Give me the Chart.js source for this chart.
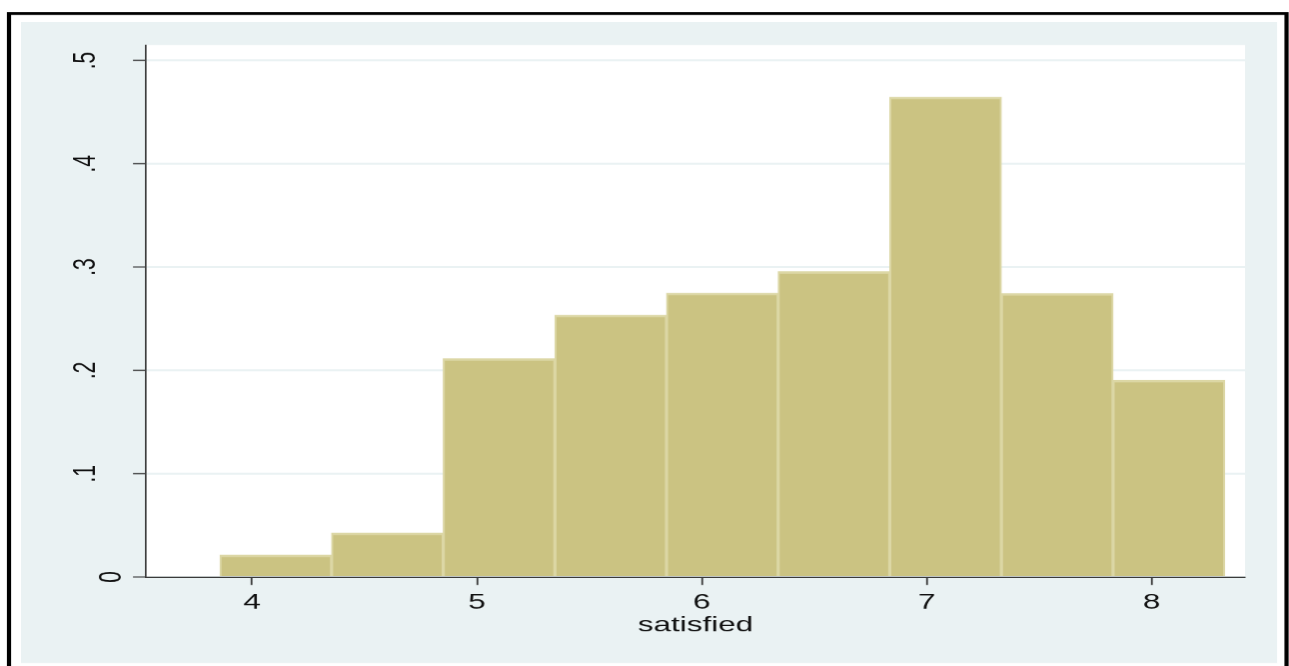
<!DOCTYPE html>
<html>
<head>
<meta charset="utf-8">
<script src="https://cdn.jsdelivr.net/npm/chart.js@4.4.1/dist/chart.umd.min.js"></script>
<style>
  html, body { margin: 0; padding: 0; background: #ffffff; }
  canvas { display: block; }
</style>
</head>
<body>
<canvas id="c" width="860" height="666" style="width:1289px;height:666px;"></canvas>
<script>
// ---- data ----
const binCenters = [4.1056, 4.6019, 5.0983, 5.5947, 6.0910, 6.5874, 7.0837, 7.5801, 8.0765];
const densities  = [0.0213, 0.0426, 0.2115, 0.2534, 0.2747, 0.2955, 0.4645, 0.2745, 0.1905];
const xTickValues = [4, 5, 6, 7, 8];
const xTickLabels = ['4', '5', '6', '7', '8'];
const yTickValues = [0, 0.1, 0.2, 0.3, 0.4, 0.5];
const yTickLabels = ['0', '.1', '.2', '.3', '.4', '.5'];
const xTitle = 'satisfied';

// ---- styling / layout ----
const SX = 1289 / 860;            // horizontal stretch of the picture
const FONT = '"Liberation Sans", Arial, Helvetica, sans-serif';
const BG = '#EAF2F3';
const AXIS = '#3a3a3a';

const framePlugin = {
  id: 'frame',
  beforeDraw(chart) {
    const ctx = chart.ctx, a = chart.chartArea;
    ctx.save();
    ctx.fillStyle = '#ffffff';
    ctx.fillRect(0, 0, chart.width, chart.height);
    ctx.fillStyle = BG;
    ctx.fillRect(21 / SX, 22, (1277 - 21) / SX, 663 - 22);
    ctx.fillStyle = '#ffffff';
    ctx.fillRect(a.left, a.top, a.right - a.left, a.bottom - a.top);
    ctx.strokeStyle = '#000000';
    ctx.lineWidth = 2.8;
    ctx.strokeRect(9 / SX, 13.5, (1286.5 - 9) / SX, 700);
    ctx.restore();
  }
};

const yLabelPlugin = {
  id: 'ylabels',
  afterDraw(chart) {
    const ctx = chart.ctx, ys = chart.scales.y;
    ctx.save();
    ctx.font = '21px ' + FONT;
    ctx.fillStyle = '#111111';
    ctx.textAlign = 'center';
    ctx.textBaseline = 'alphabetic';
    yTickValues.forEach((v, i) => {
      const py = ys.getPixelForValue(v);
      const bx = (yTickLabels[i] === '0' ? 121 : 94.5) / SX;
      ctx.save();
      ctx.translate(bx, py);
      ctx.rotate(-Math.PI / 2);
      ctx.fillText(yTickLabels[i], 0, 0);
      ctx.restore();
    });
    ctx.restore();
  }
};

new Chart(document.getElementById('c'), {
  type: 'bar',
  data: {
    datasets: [{
      data: binCenters.map((x, i) => ({ x: x, y: densities[i] })),
      backgroundColor: 'rgb(203,195,130)',
      borderColor: 'rgb(220,215,165)',
      borderWidth: { top: 2.5, left: 1.4, right: 1.4, bottom: 0 },
      borderSkipped: 'bottom',
      barPercentage: 1,
      categoryPercentage: 1
    }]
  },
  options: {
    responsive: false,
    devicePixelRatio: 1.5,
    animation: false,
    layout: { padding: { left: 0, right: 860 - 1245 / SX, top: 45, bottom: 0 } },
    plugins: { legend: { display: false }, tooltip: { enabled: false } },
    scales: {
      x: {
        type: 'linear',
        offset: false,
        min: 3.5287,
        max: 8.415,
        afterFit(s) { s.height = 666 - 577; },
        afterBuildTicks(s) { s.ticks = xTickValues.map(v => ({ value: v })); },
        grid: { offset: false, drawOnChartArea: false, drawTicks: true, tickLength: 8, tickColor: AXIS, tickWidth: 1.2 },
        border: { display: true, color: AXIS, width: 1.3 },
        ticks: {
          color: '#111111',
          font: { family: FONT, size: 21 },
          padding: 5,
          maxRotation: 0,
          autoSkip: false,
          callback(v) { const i = xTickValues.indexOf(v); return i >= 0 ? xTickLabels[i] : ''; }
        },
        title: {
          display: true,
          text: xTitle,
          color: '#111111',
          font: { family: FONT, size: 21 },
          padding: { top: 0, bottom: 28 }
        }
      },
      y: {
        type: 'linear',
        min: 0,
        max: 0.515,
        afterFit(s) { s.width = 146 / SX; },
        afterBuildTicks(s) { s.ticks = yTickValues.map(v => ({ value: v })); },
        grid: { offset: false, color: BG, lineWidth: 2, drawTicks: true, tickLength: 13 / SX, tickColor: AXIS, tickWidth: 1.2 },
        border: { display: true, color: AXIS, width: 1.1 },
        ticks: { display: false }
      }
    }
  },
  plugins: [framePlugin, yLabelPlugin]
});
</script>
</body>
</html>
